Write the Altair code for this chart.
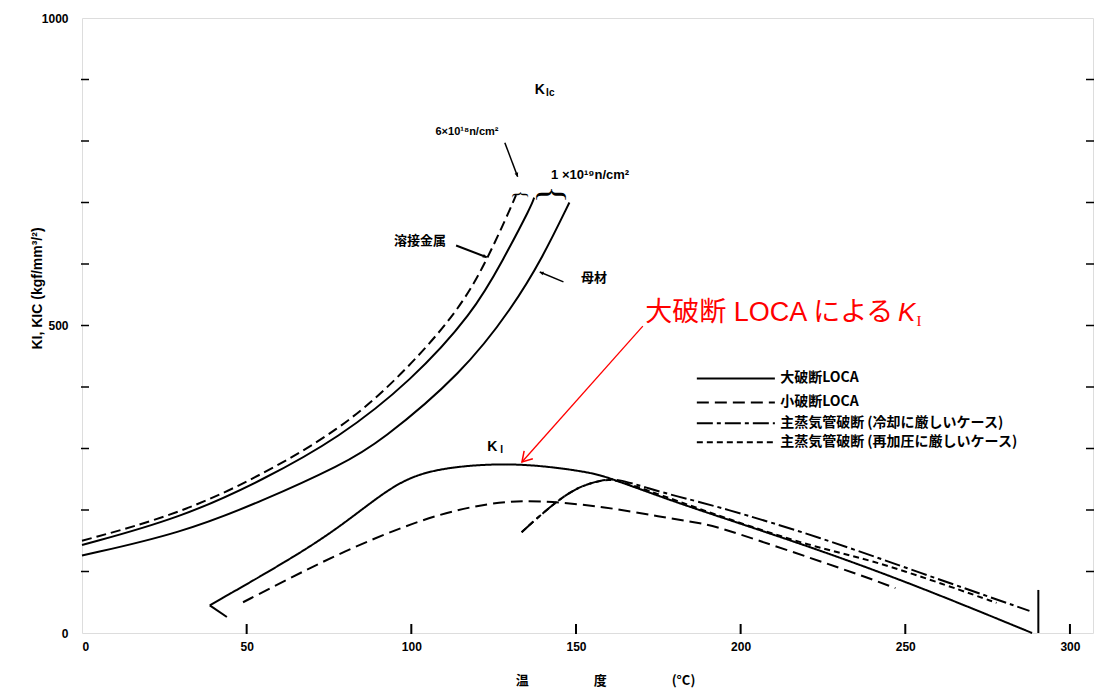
import altair as alt
import pandas as pd

# ---------------- data ----------------
# K_IC curves (temperature degC, K kgf/mm^3/2)
kic_weld_x = [0, 30, 55, 78, 95, 114, 123, 130.8, 131.8]
kic_weld_y = [150, 194, 258, 330, 408, 520, 606, 699, 712]
kic_mid_x = [0, 30, 55, 78, 100, 118.7, 127.8, 136.6, 137.3]
kic_mid_y = [143, 187, 249, 317, 410, 520, 606, 696, 708]
kic_base_x = [0, 30, 55, 79, 90.4, 115.6, 130.8, 139.9, 148]
kic_base_y = [126, 162, 215, 274, 310, 423, 530, 611, 700]

# K_I curves
large_hook_x = [44, 38.8]
large_hook_y = [26, 45]
large_x = [38.8, 63, 78.3, 93.5, 103.5, 117, 134, 154, 160.3, 178.5, 193.6, 224, 254.4, 288.5]
large_y = [45, 119, 172, 237, 262, 273, 276, 262, 252, 216, 189, 135, 75, 0]
small_x = [48.9, 63.1, 78.3, 103.5, 124, 139, 159.3, 175.4, 188.5, 193.6, 234, 247]
small_y = [50, 89, 130, 187, 213, 216, 205, 189, 178, 172, 99, 73]
cool_x = [133.5, 142, 150, 158, 162.5, 171.5, 180, 193.6, 224, 254.4, 287.7]
cool_y = [164, 205, 237, 249, 251, 236, 223, 205, 156, 98, 36]
repress_x = [133.5, 142, 150, 158, 162, 175, 196.7, 222, 239, 264, 277.7]
repress_y = [164, 205, 237, 249, 250, 226, 184, 140, 120, 75, 49]

series_names = [
    "大破断LOCA",
    "小破断LOCA",
    "主蒸気管破断 (冷却に厳しいケース)",
    "主蒸気管破断 (再加圧に厳しいケース)",
]
dash_patterns = [[1, 0], [12, 6], [16, 4, 4, 4], [6, 4]]

# end marker (vertical line at the right)
vline_x = [290.4]
vline_y2 = [70]

x_labels = [0, 50, 100, 150, 200, 250, 300]
y_labels = [0, 500, 1000]
xtick_vals = [50, 100, 150, 200, 250, 300]
ytick_vals = [100, 200, 300, 400, 500, 600, 700, 800, 900]

# ---------------- layout constants ----------------
W, H = 1011, 615
XMAX = 307
CJK = "Noto Sans CJK JP"
LAT = "Liberation Sans"

xs = alt.Scale(domain=[0, XMAX], nice=False, zero=False)
ys = alt.Scale(domain=[0, 1000], nice=False, zero=False)

xaxis = alt.Axis(values=x_labels, ticks=False, domain=False, grid=False, format="d",
                 labelFont=LAT, labelFontSize=12, labelFontWeight="bold",
                 labelPadding=8, labelColor="black",
                 title="温　　　　　度　　　　　(°C)", titleFont=CJK,
                 titleFontSize=13, titleFontWeight="bold", titleColor="black",
                 titleX=523, titleY=47, titleBaseline="middle")
yaxis = alt.Axis(values=y_labels, ticks=False, domain=False, grid=False, format="d",
                 labelFont=LAT, labelFontSize=12, labelFontWeight="bold",
                 labelPadding=14, labelColor="black",
                 title="KI,  KIC  (kgf/mm³/²)", titleFont=LAT,
                 titleFontSize=14, titleFontWeight="bold", titleColor="black",
                 titleX=-45, titleY=270, titleAngle=270,
                 titleAlign="center", titleBaseline="middle")

X = alt.X("x:Q", scale=xs, axis=xaxis)
Y = alt.Y("y:Q", scale=ys, axis=yaxis)
dash_scale = alt.Scale(domain=series_names, range=dash_patterns)


def curve_df(xv, yv, name):
    return pd.DataFrame({"x": xv, "y": yv, "s": name, "i": list(range(len(xv)))})


layers = []

# K_IC curves
for xv, yv, dash in [(kic_weld_x, kic_weld_y, [10, 5]),
                     (kic_mid_x, kic_mid_y, None),
                     (kic_base_x, kic_base_y, None)]:
    kw = dict(color="black", strokeWidth=2, interpolate="basis")
    if dash:
        kw["strokeDash"] = dash
    layers.append(alt.Chart(pd.DataFrame({"x": xv, "y": yv})).mark_line(**kw).encode(x=X, y=Y))

# K_I curves
ki_df = pd.concat([
    curve_df(large_x, large_y, series_names[0]),
    curve_df(small_x, small_y, series_names[1]),
    curve_df(cool_x, cool_y, series_names[2]),
    curve_df(repress_x, repress_y, series_names[3]),
])
layers.append(
    alt.Chart(ki_df).mark_line(color="black", strokeWidth=2, interpolate="basis").encode(
        x=X, y=Y,
        strokeDash=alt.StrokeDash("s:N", scale=dash_scale, legend=None),
        detail="s:N",
        order="i:Q",
    )
)
layers.append(
    alt.Chart(pd.DataFrame({"x": large_hook_x, "y": large_hook_y, "i": [0, 1]}))
    .mark_line(color="black", strokeWidth=2).encode(x=X, y=Y, order="i:Q")
)

# vertical end line
layers.append(
    alt.Chart(pd.DataFrame({"x": vline_x, "y": [0.0], "y2": [float(v) for v in vline_y2]}))
    .mark_rule(color="black", strokeWidth=2).encode(x=X, y=Y, y2="y2:Q")
)

# inward ticks drawn as tick marks anchored at the frame
layers.append(
    alt.Chart(pd.DataFrame({"x": xtick_vals})).mark_tick(
        color="black", orient="vertical", size=10, thickness=2, opacity=1
    ).encode(x=X, y=alt.value(H - 4))
)
layers.append(
    alt.Chart(pd.DataFrame({"y": ytick_vals})).mark_tick(
        color="black", orient="horizontal", size=8, thickness=1.5, opacity=1
    ).encode(y=Y, x=alt.value(3))
)
layers.append(
    alt.Chart(pd.DataFrame({"y": ytick_vals})).mark_tick(
        color="black", orient="horizontal", size=8, thickness=1.5, opacity=1
    ).encode(y=Y, x=alt.value(W - 3))
)

# ---------------- manual legend ----------------
legend_y = [414, 375, 341, 310]
legend_df = pd.DataFrame({"s": series_names, "y": legend_y,
                          "x": [186.7] * 4, "x2": [210.4] * 4, "xt": [212.0] * 4})
layers.append(
    alt.Chart(legend_df).mark_rule(color="black", strokeWidth=2).encode(
        x=X, x2="x2:Q", y=Y,
        strokeDash=alt.StrokeDash("s:N", scale=dash_scale, legend=None))
)
layers.append(
    alt.Chart(legend_df).mark_text(align="left", baseline="middle", font=CJK,
                                   fontSize=14, fontWeight="bold", color="black")
    .encode(x=alt.X("xt:Q", scale=xs, axis=xaxis), y=Y, text="s:N")
)

# ---------------- text annotations ----------------
def text_layer(xv, yv, txt, **kw):
    base = dict(align="center", baseline="middle", color="black")
    base.update(kw)
    return alt.Chart(pd.DataFrame({"x": [xv], "y": [yv], "t": [txt]})).mark_text(**base).encode(
        x=X, y=Y, text="t:N")

layers += [
    text_layer(102.6, 637, "溶接金属", font=CJK, fontSize=13, fontWeight="bold"),
    text_layer(155.5, 577, "母材", font=CJK, fontSize=13, fontWeight="bold"),
    text_layer(139.0, 883, "K", font=LAT, fontSize=14, fontWeight="bold"),
    text_layer(142.2, 878, "Ic", font=LAT, fontSize=10, fontWeight="bold"),
    text_layer(124.6, 303, "K", font=LAT, fontSize=14, fontWeight="bold"),
    text_layer(127.4, 297, "I", font=LAT, fontSize=10, fontWeight="bold"),
    text_layer(116.9, 815, "6×10¹⁸n/cm²", font=LAT, fontSize=11, fontWeight="bold"),
    text_layer(154.3, 745, "1 ×10¹⁹n/cm²", font=LAT, fontSize=13, fontWeight="bold"),
    text_layer(133.0, 713, "{", font="Liberation Serif", fontSize=18, angle=90),
    text_layer(142.8, 713, "{", font="Liberation Serif", fontSize=36, angle=90),
    # red annotation
    text_layer(171.0, 520, "大破断 LOCA による", align="left", font=LAT + ", " + CJK,
               fontSize=27, color="red"),
    text_layer(247.8, 520, "K", align="left", font=LAT, fontSize=26,
               fontStyle="italic", color="red"),
    text_layer(253.4, 508, "I", align="left", font="Liberation Serif", fontSize=15, color="red"),
]

# annotation lines
def seg(x1, y1, x2, y2, color="black", width=1.5):
    return alt.Chart(pd.DataFrame({"x": [x1], "y": [y1], "x2": [x2], "y2": [y2]})).mark_rule(
        color=color, strokeWidth=width).encode(x=X, y=Y, x2="x2:Q", y2="y2:Q")

def head(xv, yv, ang, color="black", size=60, filled=True, width=1.5):
    shape = "M-0.5,-1L0,0L0.5,-1Z" if filled else "M-0.6,-1L0,0L0.6,-1"
    return alt.Chart(pd.DataFrame({"x": [xv], "y": [yv]})).mark_point(
        shape=shape, filled=filled, color=color, size=size, angle=ang,
        strokeWidth=width, opacity=1).encode(x=X, y=Y)

layers += [
    seg(113.6, 630, 122.9, 611, width=2),
    head(122.9, 611, 292),
    seg(146.2, 571, 139.0, 587, width=1.5),
    head(139.0, 587, 114),
    seg(128.4, 797, 132.3, 742, width=1.5),
    head(132.3, 742, 340),
    seg(170.3, 499, 133.6, 278, color="red", width=1.3),
    head(133.6, 278, 42, color="red", size=380, filled=False, width=1.5),
]

chart = alt.layer(*layers).properties(
    width=W, height=H,
    autosize="none",
    padding={"left": 74, "top": 10, "right": 2, "bottom": 60},
).configure_view(stroke="black", strokeWidth=1.5).configure(background="white")

chart.save("out.html", embed_options={"renderer": "svg", "actions": False})
